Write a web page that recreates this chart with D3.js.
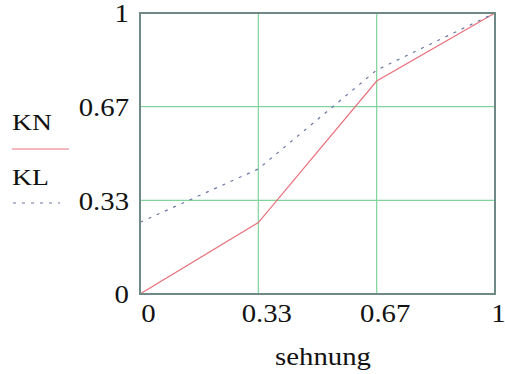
<!DOCTYPE html>
<html><head><meta charset="utf-8">
<script src="https://cdn.jsdelivr.net/npm/d3@7"></script>
<style>body{margin:0;background:#fff;} text{font-family:"Liberation Serif","DejaVu Serif",serif !important;}</style>
</head><body>
<script>
const knX = [0, 1/3, 2/3, 1];
const knY = [0, 0.254, 0.758, 1];
const klX = [0, 0, 1/3, 2/3, 1];
const klY = [0, 0.255, 0.445, 0.797, 1];
const tickValues = [0, 1/3, 2/3, 1];
const tickLabels = ["0", "0.33", "0.67", "1"];
const legendNames = ["KN", "KL"];
const xTitle = "sehnung";

const FONT = "Liberation Serif";
const STRETCH = 1.15;
const W = 505, H = 374;
const m = {left: 140, right: 10, top: 13, bottom: 80};
const svg = d3.select("body").append("svg").attr("width", W).attr("height", H)
  .attr("font-family", FONT);
const x = d3.scaleLinear().domain([0, 1]).range([m.left, W - m.right]);
const y = d3.scaleLinear().domain([0, 1]).range([H - m.bottom, m.top]);

// grid
const gridColor = "#80d49c";
svg.append("g").selectAll("line").data(tickValues.slice(1, 3)).join("line")
  .attr("x1", d => x(d)).attr("x2", d => x(d)).attr("y1", y(0)).attr("y2", y(1))
  .attr("stroke", gridColor).attr("stroke-width", 1.2);
svg.append("g").selectAll("line").data(tickValues.slice(1, 3)).join("line")
  .attr("y1", d => y(d)).attr("y2", d => y(d)).attr("x1", x(0)).attr("x2", x(1))
  .attr("stroke", gridColor).attr("stroke-width", 1.2);

// axes via d3 (labels only)
const xAxis = d3.axisBottom(x).tickValues(tickValues).tickFormat((d, i) => tickLabels[i]).tickSize(0).tickPadding(0);
const gx = svg.append("g").attr("transform", `translate(0,${y(0)})`).call(xAxis).attr("font-family", FONT);
gx.select(".domain").remove();
gx.selectAll("text").attr("font-size", 25).attr("fill", "#111").attr("font-family", FONT)
  .attr("dx", (d, i) => i === 3 ? 3 : 8).attr("dy", 0).attr("y", 28);

const yAxis = d3.axisLeft(y).tickValues(tickValues).tickFormat((d, i) => tickLabels[i]).tickSize(0).tickPadding(0);
const gy = svg.append("g").attr("transform", `translate(${x(0)},0)`).call(yAxis).attr("font-family", FONT);
gy.select(".domain").remove();
gy.selectAll("text").attr("font-size", 25).attr("fill", "#111").attr("font-family", FONT)
  .attr("x", -11).attr("dy", "0.35em");

// lines
const line = d3.line().x(d => x(d[0])).y(d => y(d[1]));
svg.append("path").datum(knX.map((v, i) => [v, knY[i]]))
  .attr("d", line).attr("fill", "none").attr("stroke", "#e8707c").attr("stroke-width", 1.2);
svg.append("path").datum(klX.map((v, i) => [v, klY[i]]))
  .attr("d", line).attr("fill", "none").attr("stroke", "#6a76a6").attr("stroke-width", 1.2)
  .attr("stroke-dasharray", "3,6");

// border
svg.append("rect").attr("x", x(0)).attr("y", y(1)).attr("width", x(1) - x(0)).attr("height", y(0) - y(1))
  .attr("fill", "none").attr("stroke", "#6f8a86").attr("stroke-width", 2);

// legend
svg.append("text").attr("x", 12).attr("y", 130).attr("font-size", 24).attr("font-family", FONT).attr("fill", "#111").text(legendNames[0]);
svg.append("line").attr("x1", 12).attr("x2", 69).attr("y1", 149).attr("y2", 149).attr("stroke", "#e8707c").attr("stroke-width", 1.2);
svg.append("text").attr("x", 12).attr("y", 185).attr("font-size", 24).attr("font-family", FONT).attr("fill", "#111").text(legendNames[1]);
svg.append("line").attr("x1", 13).attr("x2", 60).attr("y1", 203).attr("y2", 203).attr("stroke", "#6a76a6").attr("stroke-width", 1.2).attr("stroke-dasharray", "3,6");

// x title
svg.append("text").attr("x", 323).attr("y", 365).attr("text-anchor", "middle").attr("font-size", 25).attr("font-family", FONT).attr("fill", "#111").text(xTitle);

// horizontal stretch of glyphs to match the reference's wider lettering
svg.selectAll("text").each(function() {
  const len = this.getComputedTextLength();
  d3.select(this).attr("textLength", (len * STRETCH).toFixed(1)).attr("lengthAdjust", "spacingAndGlyphs");
});
</script>
</body></html>
